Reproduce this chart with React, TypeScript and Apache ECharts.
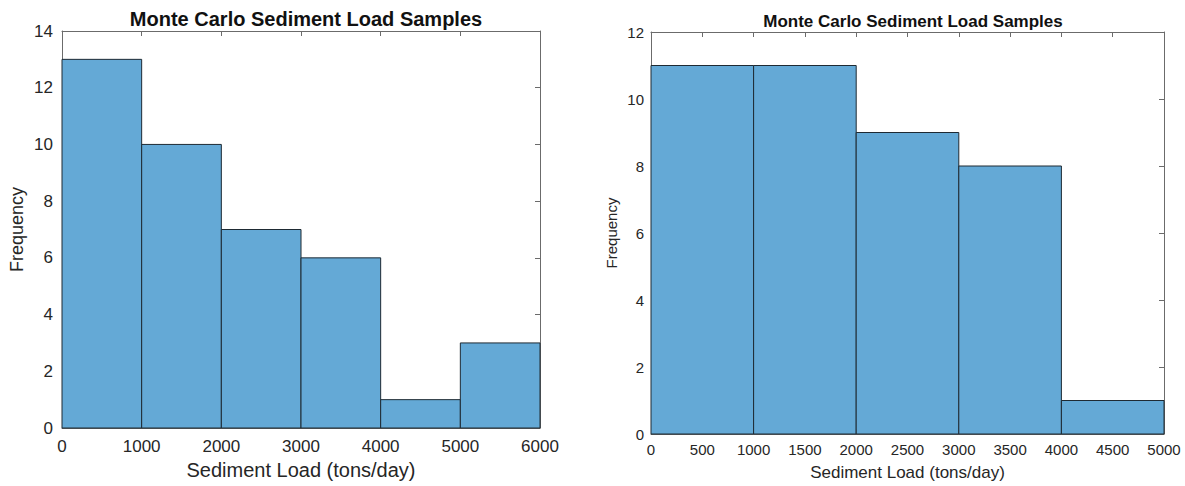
import React, { useEffect, useRef } from "react";
import * as echarts from "echarts";

const leftEdges = [0, 1000, 2000, 3000, 4000, 5000, 6000];
const leftCounts = [13, 10, 7, 6, 1, 3];
const rightEdges = [0, 1000, 2000, 3000, 4000, 5000];
const rightCounts = [11, 11, 9, 8, 1];

const titleText = "Monte Carlo Sediment Load Samples";
const xName = "Sediment Load (tons/day)";
const yName = "Frequency";

const FILL = "#64a9d6";
const EDGE = "#1e2a33";
const AXIS = "#6b6b6b";
const TEXT = "#262626";
const FONT = "'Liberation Sans', Arial, Helvetica, sans-serif";

function toBins(edges: number[], counts: number[]) {
  return counts.map((c, i) => [edges[i], edges[i + 1], c]);
}

const plain = (v: number) => String(v);

function axesFor(grid: number, xmax: number, xint: number, ymax: number, fs: number, lm: number, ylm: number, xnfs: number, ynfs: number, xgap: number, ygap: number) {
  const line = { show: true, onZero: false, lineStyle: { color: AXIS, width: 1 } };
  const tick = { show: true, inside: true, length: 5, lineStyle: { color: AXIS, width: 1 } };
  const xAxes = [
    {
      type: "value", gridIndex: grid, position: "bottom", min: 0, max: xmax, interval: xint,
      axisLine: line, axisTick: tick, splitLine: { show: false },
      axisLabel: { color: TEXT, fontSize: fs, fontFamily: FONT, margin: lm, formatter: plain },
      name: xName, nameLocation: "middle", nameGap: xgap,
      nameTextStyle: { color: TEXT, fontSize: xnfs, fontFamily: FONT },
    },
    {
      type: "value", gridIndex: grid, position: "top", min: 0, max: xmax, interval: xint,
      axisLine: line, axisTick: tick, splitLine: { show: false }, axisLabel: { show: false },
    },
  ];
  const yAxes = [
    {
      type: "value", gridIndex: grid, position: "left", min: 0, max: ymax, interval: 2,
      axisLine: line, axisTick: tick, splitLine: { show: false },
      axisLabel: { color: TEXT, fontSize: fs, fontFamily: FONT, margin: ylm, formatter: plain },
      name: yName, nameLocation: "middle", nameGap: ygap,
      nameTextStyle: { color: TEXT, fontSize: ynfs, fontFamily: FONT },
    },
    {
      type: "value", gridIndex: grid, position: "right", min: 0, max: ymax, interval: 2,
      axisLine: line, axisTick: tick, splitLine: { show: false }, axisLabel: { show: false },
    },
  ];
  return { xAxes, yAxes };
}

const renderBin = (params: any, api: any) => {
  const x0 = api.value(0);
  const x1 = api.value(1);
  const y = api.value(2);
  const p0 = api.coord([x0, y]);
  const p1 = api.coord([x1, 0]);
  return {
    type: "rect",
    shape: { x: p0[0], y: p0[1], width: p1[0] - p0[0], height: p1[1] - p0[1] },
    style: { fill: FILL, stroke: EDGE, lineWidth: 1 },
  };
};

export default function App() {
  const ref = useRef<HTMLDivElement>(null);
  useEffect(() => {
    if (!ref.current) return;
    const chart = echarts.init(ref.current, null, { renderer: "svg" });
    const L = axesFor(0, 6000, 1000, 14, 17, 10, 9, 20, 18, 31, 36);
    const R = axesFor(1, 5000, 500, 12, 15, 8, 7, 17, 15, 30, 32);
    chart.setOption({
      animation: false,
      backgroundColor: "#ffffff",
      title: [
        {
          text: titleText, left: 301, top: 4, textAlign: "center",
          textStyle: { fontSize: 20, fontWeight: "bold", color: "#111", fontFamily: FONT },
        },
        {
          text: titleText, left: 908, top: 8, textAlign: "center",
          textStyle: { fontSize: 17, fontWeight: "bold", color: "#111", fontFamily: FONT },
        },
      ],
      grid: [
        { left: 62, top: 31, width: 478, height: 397 },
        { left: 651, top: 32, width: 513, height: 404 },
      ],
      xAxis: [...L.xAxes, ...R.xAxes],
      yAxis: [...L.yAxes, ...R.yAxes],
      series: [
        {
          type: "custom", xAxisIndex: 0, yAxisIndex: 0, renderItem: renderBin,
          encode: { x: [0, 1], y: 2 }, data: toBins(leftEdges, leftCounts),
        },
        {
          type: "custom", xAxisIndex: 2, yAxisIndex: 2, renderItem: renderBin,
          encode: { x: [0, 1], y: 2 }, data: toBins(rightEdges, rightCounts),
        },
      ],
    });
    return () => chart.dispose();
  }, []);
  return (
    <div
      ref={ref}
      style={{ position: "absolute", left: 0, top: 0, width: 1185, height: 486, background: "#fff" }}
    />
  );
}
